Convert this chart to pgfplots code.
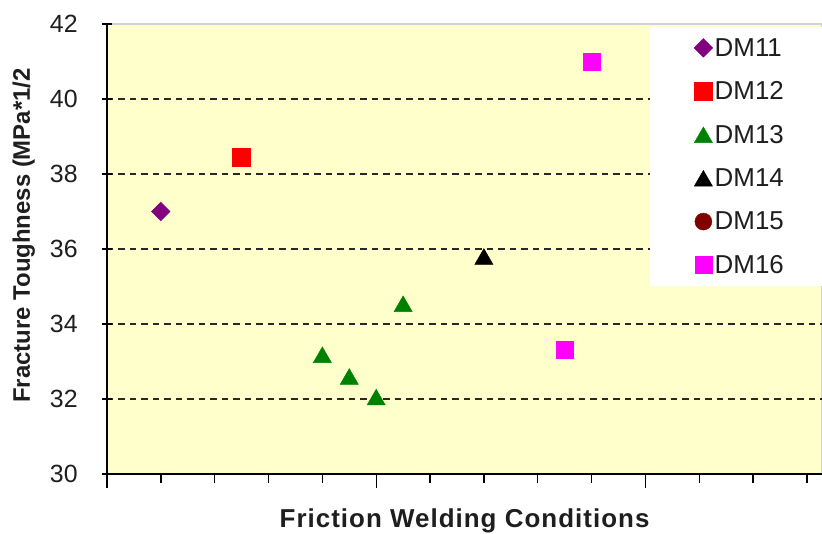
\documentclass[border=0pt]{standalone}
\usepackage{fontspec}
\setmainfont{Liberation Sans}
\newfontfamily\xlabfont[LetterSpace=4]{Liberation Sans}
\usepackage{pgfplots}
\pgfplotsset{compat=1.18}
\definecolor{plotbg}{RGB}{255,255,204}
\definecolor{dmpurple}{RGB}{128,0,128}
\definecolor{dmred}{RGB}{255,0,0}
\definecolor{dmgreen}{RGB}{0,128,0}
\definecolor{dmmaroon}{RGB}{128,0,0}
\definecolor{dmmagenta}{RGB}{255,0,255}
\definecolor{gridc}{RGB}{40,40,40}
\definecolor{txt}{RGB}{30,30,30}
\begin{document}
\begin{tikzpicture}
\begin{axis}[
  scale only axis, width=715bp, height=450bp,
  xmin=0, xmax=26.56, ymin=30, ymax=42,
  axis x line*=bottom, axis y line*=left,
  axis line style={black, line width=1.6bp},
  axis background/.style={fill=plotbg, draw=black!18, line width=1.5bp},
  xtick={0,10,20}, minor xtick={2,4,6,8,12,14,16,18,22,24,26},
  xticklabels={},
  xtick align=outside, ytick align=center,
  xtick style={black, line width=1.4bp, /pgfplots/major tick length=14bp, /pgfplots/minor tick length=9bp},
  ytick style={black, line width=1.4bp, /pgfplots/major tick length=10bp},
  ytick={30,32,...,42},
  extra y ticks={32,34,36,38,40},
  extra y tick labels={},
  extra y tick style={grid=major, major tick length=0pt},
  major grid style={gridc, line width=1.7bp, dash pattern=on 6.5bp off 5bp},
  /pgf/number format/assume math mode=true,
  yticklabel style={font=\fontsize{25}{25}\selectfont, text=txt, inner sep=0pt, anchor=east, xshift=-27bp},
  ylabel={\bfseries Fracture Toughness (MPa*1/2},
  ylabel style={at={(axis description cs:-0.1077,0.53)}, anchor=base, font=\fontsize{24}{24}\selectfont, text=txt},
  xlabel={\xlabfont\bfseries Friction Welding Conditions},
  xlabel style={at={(axis description cs:0.5,-0.119)}, anchor=base, font=\fontsize{26}{26}\selectfont, text=txt},
  legend style={at={(1,1)}, anchor=north east, xshift=8bp, yshift=-3bp, fill=white, draw=none,
    font=\fontsize{26}{26}\selectfont, text=txt, row sep=20bp, inner xsep=44bp, inner ysep=9bp},
  legend cell align=left,
  clip=false,
]
\coordinate (SW) at (rel axis cs:0,0);
\coordinate (NE) at (rel axis cs:1,1);
\addplot[only marks, mark=square*, mark size=6.6bp, mark options={rotate=45, fill=dmpurple, draw=dmpurple}]
  coordinates {(2,37.0)};
\addlegendentry{DM11}
\addplot[only marks, mark=square*, mark size=9bp, mark options={fill=dmred, draw=dmred}]
  coordinates {(5,38.45)};
\addlegendentry{DM12}
\addplot[only marks, mark=triangle*, mark size=10.5bp, mark options={fill=dmgreen, draw=dmgreen, yshift=-2.6bp}]
  coordinates {(8,33.18) (9,32.6) (10,32.05) (11,34.54)};
\addlegendentry{DM13}
\addplot[only marks, mark=triangle*, mark size=10.5bp, mark options={fill=black, draw=black, yshift=-2.6bp}]
  coordinates {(14,35.8)};
\addlegendentry{DM14}
\addlegendimage{only marks, mark=*, mark size=8.5bp, mark options={fill=dmmaroon, draw=dmmaroon}}
\addlegendentry{DM15}
\addplot[only marks, mark=square*, mark size=8.5bp, mark options={fill=dmmagenta, draw=dmmagenta}]
  coordinates {(17,33.31) (18,41.0)};
\addlegendentry{DM16}
\end{axis}
\pgfresetboundingbox
\path ([xshift=-107bp,yshift=-60bp]SW) rectangle ([yshift=24bp]NE);
\end{tikzpicture}
\end{document}
